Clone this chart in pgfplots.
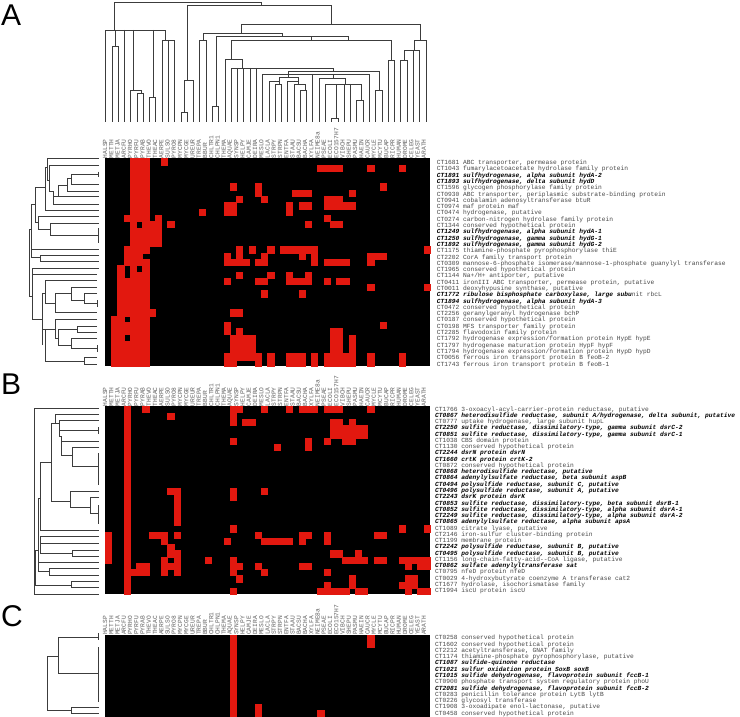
\documentclass[border=0pt]{standalone}
\usepackage{pgfplots}
\pgfplotsset{compat=1.18}
\usepackage{fontspec}
\setmainfont{Liberation Sans}
\setmonofont{Liberation Mono}
\definecolor{heat}{HTML}{E2180F}
\definecolor{treeg}{HTML}{3C3C3C}
\newcommand{\mono}{\fontsize{6.25}{6.25}\selectfont\ttfamily}
\newcommand{\bi}[1]{{\color{black}\bfseries\itshape #1}}
\pgfplotsset{
 heatpanel/.style={
  scale only axis, width=325pt, xmin=0.5, xmax=52.5, y dir=reverse,
  axis background/.style={fill=black}, axis line style={draw=none},
  major tick length=0pt, enlargelimits=false,
  xtick={1,...,52}, xticklabel pos=top, yticklabel pos=right,
  xticklabels={HALSP,METTH,METJA,ARCFU,PYRHO,PYRFU,PYRAB,THEVO,THEAC,AERPE,SULSO,PYRO8,MYCPN,MYCGE,UREUR,TREPA,BBUR,CHLTR1,CHLPN1,THEMA,AQUAE,SYNSP,HELPY,CAMJE,DEIRA,MESLO,LACLA,STRPY,STRPN,ENTFA,STAAU,BACSU,BACHA,XYLFA,NEIME8a,PSEAE,ECOLI,ECO157H7,VIBCH,SHEPU,PASMU,HAEIN,CAUCR,MYCLE,MCYTU,BUCAP,RICPR,HUMAN,DROME,CELEG,YEAST,ARATH},
  x tick label style={rotate=90, anchor=west, inner sep=0pt, font=\mono, color=black!62, yshift=3pt},
  y tick label style={anchor=west, inner sep=0pt, font=\mono, color=black!72, text height=4.2pt, text depth=1pt},
 },
 cells/.style={only marks, mark=square*, mark size=3.12pt, mark options={fill=heat, draw=heat, line width=0.1pt}, color=heat},
 tree/.style={no marks, color=treeg, line width=0.85pt, unbounded coords=jump, line join=miter},
}
\begin{document}
\begin{tikzpicture}[x=1pt,y=1pt]
\useasboundingbox (0,0) rectangle (740,717);
% ---------- canvas for dendrograms and panel letters, in pixels of the picture
\begin{axis}[at={(0,0)}, anchor=south west, scale only axis, width=740pt, height=717pt,
  xmin=0, xmax=740, ymin=0, ymax=717, y dir=reverse, hide axis, clip=false]
\addplot[tree] coordinates {
(114.7,30)(114.7,2)(261,2)(261,5)(nan,nan)
(187.7,80.7)(187.7,5)(331,5)(331,24)(nan,nan)
(105.7,122)(105.7,30)(165.7,30)(165.7,40)(nan,nan)
(124.5,30)(124.5,122)(nan,nan)
(115,30)(115,46)(nan,nan)
(112,122)(112,46)(118.3,46)(118.3,122)(nan,nan)
(133.7,30)(133.7,90)(nan,nan)
(130.8,122)(130.8,90)(141,90)(141,93.3)(nan,nan)
(137.1,122)(137.1,93.3)(143.4,93.3)(143.4,122)(nan,nan)
(153,30)(153,97)(nan,nan)
(149.7,122)(149.7,97)(155.9,97)(155.9,122)(nan,nan)
(162.2,122)(162.2,40)(174.8,40)(174.8,122)(nan,nan)
(168.5,40)(168.5,122)(nan,nan)
(184.7,112)(184.7,80.7)(193.6,80.7)(193.6,122)(nan,nan)
(181,122)(181,112)(187.3,112)(187.3,122)(nan,nan)
(241.7,33)(241.7,24)(420.3,24)(420.3,40)(nan,nan)
(203.3,40)(203.3,33)(282.7,33)(282.7,36.5)(nan,nan)
(199.9,122)(199.9,40)(206.2,40)(206.2,122)(nan,nan)
(216.7,106)(216.7,36.5)(348.7,36.5)(348.7,40)(nan,nan)
(311.7,36.5)(311.7,40)(nan,nan)
(212.4,122)(212.4,106)(218.7,106)(218.7,122)(nan,nan)
(231.7,59)(231.7,40)(391.7,40)(391.7,60)(nan,nan)
(388.3,122)(388.3,60)(394.6,60)(394.6,122)(nan,nan)
(225,122)(225,59)(242,59)(242,68)(nan,nan)
(231.3,122)(231.3,68)(333.7,68)(333.7,71.3)(nan,nan)
(237.6,68)(237.6,122)(nan,nan)(243.8,68)(243.8,122)(nan,nan)(250.1,68)(250.1,122)(nan,nan)(256.4,68)(256.4,122)(nan,nan)
(288.3,77.3)(288.3,71.3)(379,71.3)(379,90)(nan,nan)
(375.7,122)(375.7,90)(382,90)(382,122)(nan,nan)
(262.7,122)(262.7,74)(369.4,74)(369.4,122)(nan,nan)
(312.9,74)(312.9,122)(nan,nan)
(279.3,84)(279.3,77.3)(298.3,77.3)(298.3,84)(nan,nan)
(269,122)(269,81)(279.3,81)(nan,nan)
(275.2,122)(275.2,84)(281.5,84)(281.5,122)(nan,nan)
(287.8,122)(287.8,81)(298.3,81)(nan,nan)
(294.1,122)(294.1,84)(305,84)(305,90)(nan,nan)
(300.4,122)(300.4,90)(306.6,90)(306.6,122)(nan,nan)
(333,74)(333,78.3)(nan,nan)
(319.2,122)(319.2,78.3)(345.7,78.3)(345.7,84)(nan,nan)
(325.5,122)(325.5,84)(361.7,84)(361.7,100)(nan,nan)
(344.3,84)(344.3,122)(nan,nan)(350.6,84)(350.6,122)(nan,nan)
(336.7,84)(336.7,118.3)(nan,nan)
(331.8,122)(331.8,118.3)(338,118.3)(338,122)(nan,nan)
(356.9,122)(356.9,100)(363.2,100)(363.2,122)(nan,nan)
(414.4,50)(414.4,40)(426,40)(426,122)(nan,nan)
(404,60)(404,50)(419.7,50)(419.7,122)(nan,nan)
(413.4,50)(413.4,122)(nan,nan)
(400.8,122)(400.8,60)(407.1,60)(407.1,122)
};
\addplot[tree] coordinates {
(99,158.3)(47.3,158.3)(47.3,180)(49.3,180)(nan,nan)
(99,165)(49.3,165)(49.3,191)(nan,nan)
(98.5,171.7)(98.5,177.3)(nan,nan)
(98.5,174.3)(71.3,174.3)(71.3,184.3)(99,184.3)(nan,nan)
(71.3,178.3)(67.7,178.3)(67.7,191)(99,191)(nan,nan)
(67.7,185)(58,185)(58,196.7)(99,196.7)(nan,nan)
(49.3,191)(53.3,191)(53.3,204)(99,204)(nan,nan)
(53.3,196.7)(58,196.7)(nan,nan)
(99,210.3)(45,210.3)(45,167.7)(47.3,167.7)(nan,nan)
(45,187.3)(35.7,187.3)(35.7,222.7)(38.3,222.7)(nan,nan)
(99,216)(38.3,216)(38.3,229.3)(50,229.3)(nan,nan)
(99,223.7)(50,223.7)(50,235)(98.5,235)(nan,nan)
(98.5,228.3)(98.5,242.7)(nan,nan)
(35.7,204)(31.7,204)(31.7,257.3)(40,257.3)(nan,nan)
(31.7,229)(29,229)(29,296)(32.7,296)(nan,nan)
(31.7,249)(99,249)(nan,nan)
(99,255)(40,255)(40,261.7)(99,261.7)(nan,nan)
(99,268.3)(32.7,268.3)(32.7,319)(42.7,319)(nan,nan)
(32.7,274)(97,274)(nan,nan)
(42.7,345)(42.7,293.3)(45.7,293.3)(nan,nan)
(97,280.7)(45.7,280.7)(45.7,303.3)(55,303.3)(nan,nan)
(55,293.3)(55,312.7)(97,312.7)(nan,nan)
(55,293.3)(71.3,293.3)(nan,nan)
(97,287.3)(71.3,287.3)(71.3,300)(84.7,300)(nan,nan)
(97,293.7)(84.7,293.7)(84.7,303.3)(97,303.3)(nan,nan)
(97,300)(97,306.7)(nan,nan)
(42.7,329)(55,329)(nan,nan)
(45.7,329)(45.7,361.7)(84.7,361.7)(nan,nan)
(97,319)(55,319)(55,338.3)(58.3,338.3)(nan,nan)
(77.3,329)(58.3,329)(58.3,345)(71.3,345)(nan,nan)
(97,326)(77.3,326)(77.3,332)(97,332)(nan,nan)
(97,338.7)(71.3,338.7)(71.3,348.3)(97,348.3)(nan,nan)
(97,345)(97,351.7)(nan,nan)
(97,357.3)(84.7,357.3)(84.7,364)(97,364)
};
\addplot[tree] coordinates {
(99,408.3)(34.3,408.3)(34.3,594.3)(99,594.3)(nan,nan)
(99,414.3)(55,414.3)(55,423.3)(51.7,423.3)(51.7,501)(70,501)(nan,nan)
(99,420.7)(59,420.7)(59,436.7)(61.7,436.7)(61.7,455)(72.3,455)(nan,nan)
(55,423.3)(59,423.3)(nan,nan)
(59,430.7)(98.5,430.7)(nan,nan)
(98.5,427.3)(98.5,434)(nan,nan)
(61.7,441)(99,441)(nan,nan)
(99,447.3)(72.3,447.3)(72.3,466)(98.5,466)(nan,nan)
(98.5,453.3)(98.5,485)(nan,nan)
(51.7,462.3)(40.7,462.3)(40.7,530)(99,530)(nan,nan)
(99,491.7)(70,491.7)(70,507.7)(90.7,507.7)(nan,nan)
(99,497.7)(90.7,497.7)(90.7,513.3)(98.5,513.3)(nan,nan)
(98.5,505)(98.5,524)(nan,nan)
(40.7,498.3)(38.3,498.3)(38.3,571.7)(49,571.7)(nan,nan)
(99,536.7)(40,536.7)(40,553)(72.7,553)(nan,nan)
(40,543.3)(99,543.3)(nan,nan)
(99,550)(72.7,550)(72.7,556)(99,556)(nan,nan)
(38.3,562.7)(99,562.7)(nan,nan)
(99,568.7)(49,568.7)(49,575)(99,575)(nan,nan)
(34.3,550)(38.3,550)(nan,nan)
(35.7,550)(35.7,585)(71.7,585)(nan,nan)
(99,581.7)(71.7,581.7)(71.7,587.7)(99,587.7)
};
\addplot[tree] coordinates {
(98.5,633.3)(98.5,640)(nan,nan)
(98.5,647.3)(98.5,701.7)(nan,nan)
(99,637.3)(58.3,637.3)(58.3,673.3)(99,673.3)(nan,nan)
(58.3,656.7)(47.3,656.7)(47.3,710.7)(71.7,710.7)(nan,nan)
(99,707.3)(71.7,707.3)(71.7,713.7)(99,713.7)
};
\node[anchor=base west, inner sep=0pt, font=\fontsize{30}{30}\selectfont] at (axis cs:1,26) {A};
\node[anchor=base west, inner sep=0pt, font=\fontsize{30}{30}\selectfont] at (axis cs:1,394.5) {B};
\node[anchor=base west, inner sep=0pt, font=\fontsize{30}{30}\selectfont] at (axis cs:1,626.5) {C};
\end{axis}
% ---------- panel A
\begin{axis}[heatpanel, at={(105pt,351pt)}, anchor=south west, height=207.7pt, ymin=0.5, ymax=33.5,
  ytick={1,...,33},
  y tick label style={xshift=6.7pt, yshift=-1.6pt},
  yticklabels={
  {CT1681 ABC transporter, permease protein},
  {CT1043 fumarylacetoacetate hydrolase family protein},
  {\bi{CT1891 sulfhydrogenase, alpha subunit hydA-2}},
  {\bi{CT1893 sulfhydrogenase, delta subunit hydD}},
  {CT1596 glycogen phosphorylase family protein},
  {CT0930 ABC transporter, periplasmic substrate-binding protein},
  {CT0941 cobalamin adenosyltransferase btuR},
  {CT0974 maf protein maf},
  {CT0474 hydrogenase, putative},
  {CT0274 carbon-nitrogen hydrolase family protein},
  {CT1344 conserved hypothetical protein},
  {\bi{CT1249 sulfhydrogenase, alpha subunit hydA-1}},
  {\bi{CT1250 sulfhydrogenase, gamma subunit hydG-1}},
  {\bi{CT1892 sulfhydrogenase, gamma subunit hydG-2}},
  {CT1175 thiamine-phosphate pyrophosphorylase thiE},
  {CT2202 CorA family transport protein},
  {CT0309 mannose-6-phosphate isomerase/mannose-1-phosphate guanylyl transferase},
  {CT1965 conserved hypothetical protein},
  {CT1144 Na+/H+ antiporter, putative},
  {CT0411 ironIII ABC transporter, permease protein, putative},
  {CT0011 deoxyhypusine synthase, putative},
  {\bi{CT1772 ribulose bisphosphate carboxylase, large subu}nit rbcL},
  {\bi{CT1894 sulfhydrogenase, alpha subunit hydA-3}},
  {CT0472 conserved hypothetical protein},
  {CT2256 geranylgeranyl hydrogenase bchP},
  {CT0187 conserved hypothetical protein},
  {CT0198 MFS transporter family protein},
  {CT2285 flavodoxin family protein},
  {CT1792 hydrogenase expression/formation protein HypE hypE},
  {CT1797 hydrogenase maturation protein HypF hypF},
  {CT1794 hydrogenase expression/formation protein HypD hypD},
  {CT0056 ferrous iron transport protein B feoB-2},
  {CT1743 ferrous iron transport protein B feoB-1}}]
\addplot[cells] coordinates {
(5,1)(6,1)(7,1)(10,1)
(5,2)(6,2)(7,2)(35,2)(36,2)(37,2)(38,2)(43,2)(48,2)
(5,3)(6,3)(7,3)
(5,4)(6,4)(7,4)
(5,5)(6,5)(7,5)(21,5)(25,5)(45,5)
(5,6)(6,6)(7,6)(25,6)(31,6)(32,6)(33,6)(40,6)
(5,7)(6,7)(7,7)(22,7)(26,7)(36,7)(37,7)(38,7)
(5,8)(6,8)(7,8)(20,8)(21,8)(30,8)(32,8)(33,8)(36,8)(37,8)(38,8)(39,8)(40,8)
(5,9)(6,9)(7,9)(16,9)(20,9)(21,9)(30,9)
(4,10)(5,10)(6,10)(7,10)(9,10)(36,10)
(5,11)(7,11)(8,11)(9,11)(11,11)(33,11)(37,11)(38,11)
(5,12)(6,12)(7,12)(8,12)(9,12)
(5,13)(6,13)(7,13)(8,13)(9,13)
(5,14)(6,14)(7,14)(8,14)(9,14)
(4,15)(5,15)(6,15)(7,15)(22,15)(24,15)(27,15)(29,15)(30,15)(31,15)(32,15)(33,15)(34,15)(52,15)
(4,16)(5,16)(6,16)(20,16)(22,16)(26,16)(32,16)(34,16)(43,16)(44,16)(45,16)
(4,17)(5,17)(6,17)(7,17)(20,17)(21,17)(22,17)(23,17)(25,17)(26,17)(34,17)(36,17)(37,17)(38,17)(39,17)(43,17)
(3,18)(5,18)(7,18)
(3,19)(5,19)(6,19)(7,19)(22,19)(27,19)(30,19)(33,19)
(3,20)(4,20)(5,20)(6,20)(7,20)(20,20)(25,20)(26,20)(30,20)(31,20)(32,20)(33,20)(36,20)(38,20)(39,20)
(3,21)(4,21)(5,21)(6,21)(7,21)(43,21)(52,21)
(3,22)(4,22)(5,22)(6,22)(7,22)(26,22)(32,22)
(3,23)(4,23)(5,23)(6,23)(7,23)
(3,24)(4,24)(5,24)(6,24)(7,24)
(3,25)(4,25)(5,25)(6,25)(7,25)(8,25)(21,25)(22,25)
(2,26)(3,26)(5,26)(6,26)(7,26)
(2,27)(3,27)(4,27)(5,27)(6,27)(7,27)(20,27)(45,27)
(2,28)(3,28)(4,28)(5,28)(6,28)(7,28)(20,28)(22,28)(37,28)(38,28)
(2,29)(3,29)(5,29)(6,29)(7,29)(21,29)(22,29)(23,29)(24,29)(37,29)(38,29)(40,29)
(2,30)(3,30)(4,30)(5,30)(6,30)(7,30)(21,30)(22,30)(23,30)(24,30)(37,30)(38,30)(40,30)
(2,31)(3,31)(4,31)(5,31)(6,31)(7,31)(21,31)(22,31)(23,31)(24,31)(37,31)(38,31)(40,31)
(2,32)(3,32)(4,32)(5,32)(6,32)(7,32)(20,32)(21,32)(22,32)(23,32)(24,32)(25,32)(27,32)(30,32)(31,32)(32,32)(34,32)(36,32)(37,32)(38,32)(39,32)(40,32)(43,32)(48,32)
(2,33)(3,33)(4,33)(5,33)(6,33)(7,33)(20,33)(21,33)(25,33)(27,33)(30,33)(31,33)(32,33)(34,33)(36,33)(37,33)(38,33)(39,33)(40,33)(43,33)(48,33)
};
\end{axis}
% ---------- panel B
\begin{axis}[heatpanel, at={(105pt,122.7pt)}, anchor=south west, height=188pt, ymin=0.5, ymax=30.5,
  ytick={1,...,30},
  y tick label style={xshift=5pt, yshift=0pt},
  yticklabels={
  {CT1766 3-oxoacyl-acyl-carrier-protein reductase, putative},
  {\bi{CT0867 heterodisulfide reductase, subunit A/hydrogenase, delta subunit, putative}},
  {CT0777 uptake hydrogenase, large subunit hupL},
  {\bi{CT2250 sulfite reductase, dissimilatory-type, gamma subunit dsrC-2}},
  {\bi{CT0851 sulfite reductase, dissimilatory-type, gamma subunit dsrC-1}},
  {CT1038 CBS domain protein},
  {CT1130 conserved hypothetical protein},
  {\bi{CT2244 dsrN protein dsrN}},
  {\bi{CT1660 crtK protein crtK-2}},
  {CT0872 conserved hypothetical protein},
  {\bi{CT0868 heterodisulfide reductase, putative}},
  {\bi{CT0864 adenylylsulfate reductase, beta subunit aspB}},
  {\bi{CT0494 polysulfide reductase, subunit C, putative}},
  {\bi{CT0496 polysulfide reductase, subunit A, putative}},
  {\bi{CT2243 dsrK protein dsrK}},
  {\bi{CT0853 sulfite reductase, dissimilatory-type, beta subunit dsrB-1}},
  {\bi{CT0852 sulfite reductase, dissimilatory-type, alpha subunit dsrA-1}},
  {\bi{CT2249 sulfite reductase, dissimilatory-type, alpha subunit dsrA-2}},
  {\bi{CT0865 adenylylsulfate reductase, alpha subunit apsA}},
  {CT1089 citrate lyase, putative},
  {CT2146 iron-sulfur cluster-binding protein},
  {CT1199 membrane protein},
  {\bi{CT2242 polysulfide reductase, subunit B, putative}},
  {\bi{CT0495 polysulfide reductase, subunit B, putative}},
  {CT1156 long-chain-fatty-acid-{}-CoA ligase, putative},
  {\bi{CT0862 sulfate adenylyltransferase sat}},
  {CT0795 nfeD protein nfeD},
  {CT0029 4-hydroxybutyrate coenzyme A transferase cat2},
  {CT1677 hydrolase, isochorismatase family},
  {CT1994 iscU protein iscU}}]
\addplot[cells] coordinates {
(4,1)(4,2)(4,3)(4,4)(4,5)(4,6)(4,7)(4,8)(4,9)(4,10)(4,11)(4,12)(4,13)(4,14)(4,15)(4,16)(4,17)(4,18)(4,19)(4,20)(4,21)(4,22)(4,23)(4,24)(4,25)(4,26)(4,27)(4,28)(4,29)(4,30)
(7,1)(21,1)(22,1)(26,1)(30,1)(32,1)(33,1)(34,1)(36,1)(37,1)(38,1)(43,1)
(11,2)(21,2)
(21,3)(23,3)(24,3)(37,3)(38,3)(40,3)
(37,4)(38,4)(39,4)(40,4)(41,4)(42,4)
(37,5)(38,5)(39,5)(40,5)(41,5)(42,5)
(21,6)(33,6)(36,6)(39,6)(40,6)
(28,7)(33,7)
(11,14)(12,14)(21,14)(26,14)
(12,15)(21,15)
(12,16)(12,17)(12,18)(12,19)
(21,20)(48,20)(52,20)
(1,21)(8,21)(9,21)(10,21)(12,21)(25,21)(32,21)(33,21)(36,21)(44,21)(45,21)
(1,22)(10,22)(20,22)(26,22)(27,22)(28,22)(29,22)(30,22)(32,22)(36,22)
(1,23)(11,23)
(1,24)(11,24)(12,24)(37,24)(38,24)(41,24)
(1,25)(10,25)(12,25)(17,25)(21,25)(39,25)(40,25)(41,25)(42,25)(44,25)(45,25)(48,25)(49,25)(50,25)(51,25)(52,25)
(6,26)(7,26)(10,26)(11,26)(12,26)(21,26)(22,26)(25,26)(32,26)(33,26)(49,26)(51,26)(52,26)
(5,27)(6,27)(7,27)(10,27)(12,27)(21,27)(26,27)(36,27)
(22,28)(40,28)(49,28)(50,28)
(36,29)(40,29)(48,29)(49,29)(50,29)
(21,30)(35,30)(36,30)(37,30)(38,30)(39,30)(41,30)(42,30)(49,30)(51,30)(52,30)
};
\end{axis}
% ---------- panel C
\begin{axis}[heatpanel, at={(105pt,0.3pt)}, anchor=south west, height=81.7pt, ymin=0.5, ymax=13.5,
  ytick={1,...,13},
  y tick label style={xshift=5pt, yshift=0pt},
  yticklabels={
  {CT0258 conserved hypothetical protein},
  {CT1602 conserved hypothetical protein},
  {CT2212 acetyltransferase, GNAT family},
  {CT1174 thiamine-phosphate pyrophosphorylase, putative},
  {\bi{CT1087 sulfide-quinone reductase}},
  {\bi{CT1021 sulfur oxidation protein SoxB soxB}},
  {\bi{CT1015 sulfide dehydrogenase, flavoprotein subunit fccB-1}},
  {CT0900 phosphate transport system regulatory protein phoU},
  {\bi{CT2081 sulfide dehydrogenase, flavoprotein subunit fccB-2}},
  {CT0283 penicillin tolerance protein LytB lytB},
  {CT0226 glycosyl transferase},
  {CT1908 3-oxoadipate enol-lactonase, putative},
  {CT0458 conserved hypothetical protein}}]
\addplot[cells] coordinates {
(21,1)(21,2)(21,3)(21,4)(21,5)(21,6)(21,7)(21,8)(21,9)(21,10)(21,11)(21,12)(21,13)
(43,1)(43,2)(25,12)(25,13)(35,13)
};
\end{axis}
\end{tikzpicture}
\end{document}
